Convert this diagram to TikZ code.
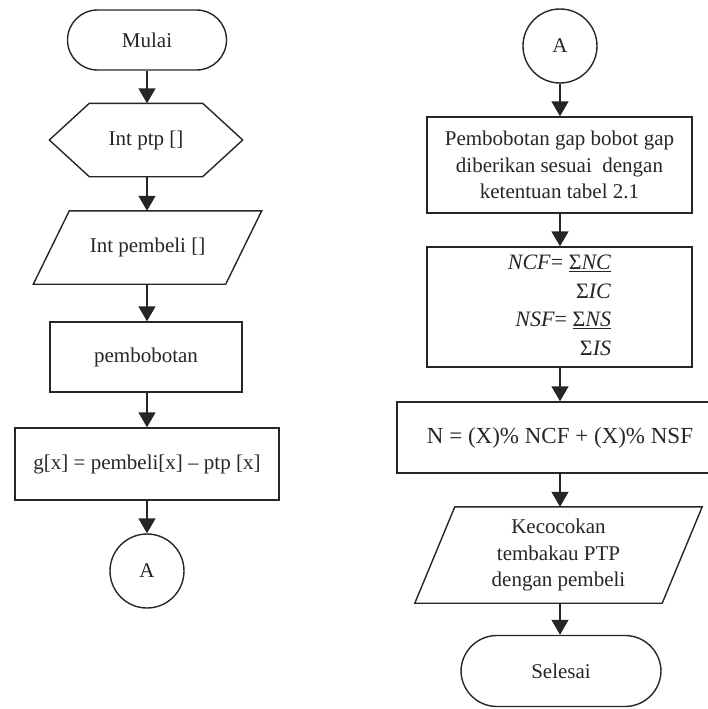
\documentclass[tikz,border=0pt]{standalone}
\usepackage{fontspec}
\setmainfont{Liberation Serif}
\usetikzlibrary{arrows.meta,calc}
\definecolor{ink}{HTML}{262626}
\begin{document}
\begin{tikzpicture}[x=1pt,y=-1pt,
  every node/.style={inner sep=0pt,text=ink,font=\fontsize{21}{26.5}\selectfont},
  shape line/.style={draw=ink,line width=1.4pt},
  terminal/.style={shape line,rectangle,rounded corners=#1},
  box/.style={shape line,rectangle},
  flow/.style={draw=ink,line width=1.5pt,-{Triangle[length=15pt,width=17pt]}}]
\useasboundingbox (0,0) rectangle (707,709);

% ---------- left column ----------
\node[terminal=30pt,minimum width=159pt,minimum height=60pt] (mulai) at (147,40) {Mulai};
\node[minimum width=113pt,minimum height=73pt] (hex) at (146,140) {Int ptp []};
\draw[shape line] (hex.north west) -- (hex.north east) -- ([xshift=40pt]hex.east)
  -- (hex.south east) -- (hex.south west) -- ([xshift=-40pt]hex.west) -- cycle;
\node[minimum width=192pt,minimum height=73pt] (inp) at (147.5,247.5) {Int pembeli []};
\draw[shape line] ([xshift=18pt]inp.north west) -- ([xshift=18pt]inp.north east)
  -- ([xshift=-18pt]inp.south east) -- ([xshift=-18pt]inp.south west) -- cycle;
\node[box,minimum width=192pt,minimum height=70pt] (bobot) at (146,357) {pembobotan};
\node[box,minimum width=264pt,minimum height=72pt] (gx) at (147,464) {g[x] = pembeli[x] – ptp [x]};
\node[shape line,circle,minimum size=74pt] (a1) at (147,571) {A};

\draw[flow] (mulai.south) -- (mulai.south |- hex.north);
\draw[flow] (hex.south -| mulai.south) -- (mulai.south |- inp.north);
\draw[flow] (inp.south -| mulai.south) -- (mulai.south |- bobot.north);
\draw[flow] (bobot.south -| mulai.south) -- (mulai.south |- gx.north);
\draw[flow] (gx.south -| mulai.south) -- (a1.north);

% ---------- right column ----------
\node[shape line,circle,minimum size=74pt] (a2) at (560,46) {A};
\node[box,minimum width=265pt,minimum height=96pt,align=center] (r1) at (559.5,165)
  {Pembobotan gap bobot gap\\diberikan sesuai\ \ dengan\\ketentuan tabel 2.1};
\node[box,minimum width=265pt,minimum height=120pt] (r2) at (559.5,307)
  {\fontsize{22}{28.5}\selectfont
   \begin{tabular}{@{}r@{}}
   \textit{NCF}= \underline{Σ\textit{NC}}\\
   Σ\textit{IC}\\
   \textit{NSF}= \underline{Σ\textit{NS}}\\
   Σ\textit{IS}
   \end{tabular}};
\node[box,minimum width=326pt,minimum height=71pt] (r3) at (560,437.5)
  {\fontsize{23}{27}\selectfont N = (X)\% NCF + (X)\% NSF};
\node[minimum width=247pt,minimum height=96pt] (outp) at (558.5,555)
  {\raisebox{-4pt}{\begin{tabular}{@{}c@{}}Kecocokan\\tembakau PTP\\dengan pembeli\end{tabular}}};
\draw[shape line] ([xshift=20pt]outp.north west) -- ([xshift=20pt]outp.north east)
  -- ([xshift=-20pt]outp.south east) -- ([xshift=-20pt]outp.south west) -- cycle;
\node[terminal=36pt,minimum width=200pt,minimum height=71pt] (selesai) at (561,671) {Selesai};

\draw[flow] (a2.south) -- (a2.south |- r1.north);
\draw[flow] (r1.south -| a2.south) -- (a2.south |- r2.north);
\draw[flow] (r2.south -| a2.south) -- (a2.south |- r3.north);
\draw[flow] (r3.south -| a2.south) -- (a2.south |- outp.north);
\draw[flow] (outp.south -| a2.south) -- (a2.south |- selesai.north);
\end{tikzpicture}
\end{document}
